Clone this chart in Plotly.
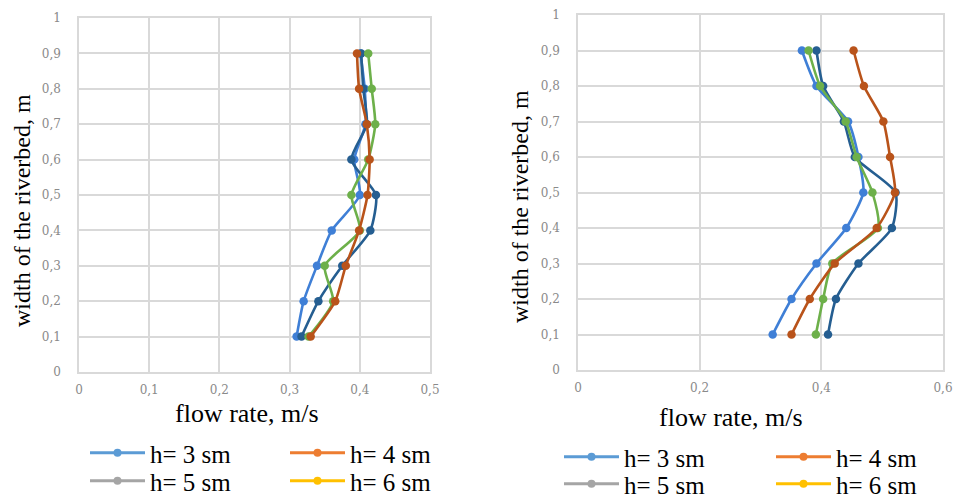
import plotly.graph_objects as go

widths = [0.1, 0.2, 0.3, 0.4, 0.5, 0.6, 0.7, 0.8, 0.9]

# Left chart: flow rate (m/s) per series
left_light_blue = [0.310, 0.320, 0.339, 0.360, 0.400, 0.392, 0.408, 0.407, 0.401]
left_dark_blue  = [0.317, 0.341, 0.375, 0.415, 0.423, 0.388, 0.410, 0.405, 0.402]
left_brown      = [0.330, 0.365, 0.380, 0.399, 0.411, 0.414, 0.410, 0.399, 0.396]
left_green      = [0.327, 0.362, 0.350, 0.400, 0.388, 0.412, 0.422, 0.417, 0.412]

# Right chart
right_light_blue = [0.320, 0.351, 0.392, 0.441, 0.469, 0.461, 0.444, 0.392, 0.368]
right_dark_blue  = [0.411, 0.424, 0.461, 0.516, 0.522, 0.455, 0.437, 0.403, 0.392]
right_brown      = [0.351, 0.381, 0.422, 0.491, 0.521, 0.513, 0.502, 0.470, 0.453]
right_green      = [0.391, 0.403, 0.418, 0.493, 0.484, 0.458, 0.440, 0.398, 0.379]

legend_names = ["h= 3 sm", "h= 4 sm", "h= 5 sm", "h= 6 sm"]
legend_colors = ["#5B9BD5", "#ED7D31", "#A5A5A5", "#FFC000"]

line_colors = {"light": "#3F7FD6", "dark": "#255E91", "brown": "#B9531A", "green": "#6DB04A"}

left_tick_vals = [0, 0.1, 0.2, 0.3, 0.4, 0.5]
left_tick_text = ["0", "0,1", "0,2", "0,3", "0,4", "0,5"]
right_tick_vals = [0, 0.2, 0.4, 0.6]
right_tick_text = ["0", "0,2", "0,4", "0,6"]
y_tick_vals = [0, 0.1, 0.2, 0.3, 0.4, 0.5, 0.6, 0.7, 0.8, 0.9, 1]
y_tick_text = ["0", "0,1", "0,2", "0,3", "0,4", "0,5", "0,6", "0,7", "0,8", "0,9", "1"]

x_title = "flow rate, m/s"
y_title = "width of the riverbed, m"

# page has an 8px body margin: figure is placed at (8, 8)
W, H, OFF = 954, 489, 8

def fx(px):
    return (px - OFF) / W

def fy(py):
    return 1 - (py - OFF) / H

fig = go.Figure()

def add_series(xs, color, xa, ya):
    fig.add_trace(go.Scatter(
        x=xs, y=widths, mode="lines+markers", xaxis=xa, yaxis=ya,
        line=dict(color=color, width=2.6, shape="spline", smoothing=0.6),
        marker=dict(color=color, size=8.5), showlegend=False, hoverinfo="x+y"))

for xs, c in [(left_light_blue, "light"), (left_dark_blue, "dark"),
              (left_green, "green"), (left_brown, "brown")]:
    add_series(xs, line_colors[c], "x", "y")
for xs, c in [(right_light_blue, "light"), (right_dark_blue, "dark"),
              (right_green, "green"), (right_brown, "brown")]:
    add_series(xs, line_colors[c], "x2", "y2")

# legend entries (colours as shown in the legend); one legend per entry
legend_font = dict(family="Liberation Serif", size=25, color="#000000")
legend_spots = {
    "left": [(90, 452), (290, 452), (90, 480), (290, 480)],
    "right": [(564, 456), (776, 456), (564, 483), (776, 483)],
}
legend_layouts = {}
k = 1
for chart, xa, ya in [("left", "x", "y"), ("right", "x2", "y2")]:
    for (name, col), (lx, ly) in zip(zip(legend_names, legend_colors), legend_spots[chart]):
        lid = "legend" if k == 1 else f"legend{k}"
        fig.add_trace(go.Scatter(
            x=[None], y=[None], mode="lines+markers", name=name, legend=lid,
            xaxis=xa, yaxis=ya, line=dict(color=col, width=3),
            marker=dict(color=col, size=8), showlegend=True))
        legend_layouts[lid] = dict(
            orientation="v", x=fx(lx - 5), xanchor="left", y=fy(ly - 22), yanchor="top",
            font=legend_font, bgcolor="rgba(0,0,0,0)", itemwidth=55,
            tracegroupgap=0, borderwidth=0)
        k += 1

tick_font = dict(family="DejaVu Serif", size=12, color="#8A8A8A")
grid = "#D9D9D9"

common_axis = dict(showgrid=True, gridcolor=grid, gridwidth=1.5, zeroline=False,
                   showline=True, linecolor=grid, linewidth=1.5, tickfont=tick_font,
                   ticks="outside", tickcolor="rgba(0,0,0,0)", fixedrange=True,
                   automargin=False)

def title_ann(text, cx, cy, angle, size):
    return dict(text=text, x=fx(cx), y=fy(cy), xref="paper", yref="paper",
                xanchor="center", yanchor="middle", showarrow=False, textangle=angle,
                font=dict(family="Liberation Serif", size=size, color="#000000"))

annotations = [
    title_ann(x_title, 247, 413, 0, 26),
    title_ann(x_title, 731, 417, 0, 26),
    title_ann(y_title, 22, 211, -90, 24),
    title_ann(y_title, 520, 207, -90, 24),
]

fig.update_layout(
    width=W, height=H,
    margin=dict(l=0, r=0, t=0, b=0, autoexpand=False),
    paper_bgcolor="white", plot_bgcolor="white",
    xaxis=dict(domain=[fx(79), fx(430)], range=[0, 0.5], tickvals=left_tick_vals,
               ticktext=left_tick_text, anchor="y", ticklen=6, mirror=True, **common_axis),
    yaxis=dict(domain=[fy(372), fy(18)], range=[0, 1], tickvals=y_tick_vals,
               ticktext=y_tick_text, anchor="x", ticklen=14, mirror=True, **common_axis),
    xaxis2=dict(domain=[fx(578), fx(943)], range=[0, 0.6], tickvals=right_tick_vals,
                ticktext=right_tick_text, anchor="y2", ticklen=6, mirror=True, **common_axis),
    yaxis2=dict(domain=[fy(370), fy(15)], range=[0, 1], tickvals=y_tick_vals,
                ticktext=y_tick_text, anchor="x2", ticklen=14, mirror=True, **common_axis),
    annotations=annotations,
    showlegend=True,
    **legend_layouts,
)

fig.write_html("out.html")
